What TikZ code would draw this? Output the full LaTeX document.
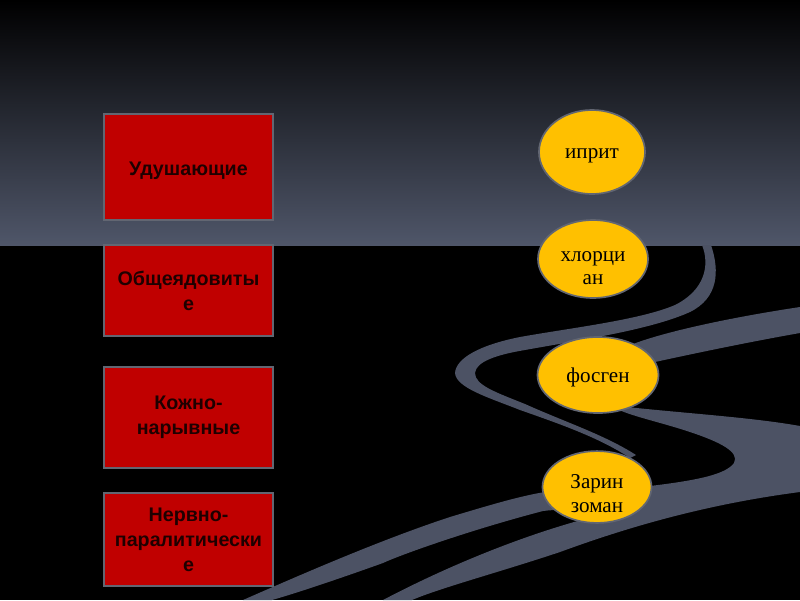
\documentclass[tikz,border=0pt]{standalone}
\usepackage{fontspec}
\setmainfont{Liberation Serif}
\newfontfamily\boxfont{Liberation Sans}
\usetikzlibrary{shapes.geometric}
\definecolor{slate}{RGB}{79,86,105}
\definecolor{ribbongray}{RGB}{76,82,100}
\definecolor{boxred}{RGB}{192,0,0}
\definecolor{amber}{RGB}{255,192,0}
\definecolor{rim}{RGB}{98,102,114}
\newcommand\lift[1]{\rule{0pt}{#1}}
\begin{document}
\begin{tikzpicture}[x=0.025cm, y=-0.025cm,
  grp/.style={draw=rim, line width=1.4pt, fill=boxred, minimum width=4.2cm, inner sep=0pt,
    align=center, text={rgb,255:red,30;green,0;blue,0}, font=\boxfont\bfseries\fontsize{14}{17.8}\selectfont},
  agent/.style={ellipse, draw=rim, line width=1.2pt, fill=amber, inner sep=0pt, align=center,
    font=\fontsize{15}{17}\selectfont},
  ribbon/.style={fill=ribbongray}]
  \useasboundingbox (0,0) rectangle (800,600);
  \fill[black] (0,0) rectangle (800,600);
  \shade[top color=black, bottom color=slate] (0,0) rectangle (800,245);
  % thin S ribbon under the top band
  \fill[ribbon] (702,245) .. controls (710,265) and (705,290) .. (675,305)
    .. controls (640,320) and (570,328) .. (520,337) .. controls (480,345) and (456,358) .. (455,373)
    .. controls (456,388) and (490,398) .. (520,410) .. controls (560,424) and (600,438) .. (630,458)
    -- (636,455) .. controls (605,435) and (565,422) .. (525,404) .. controls (495,392) and (475,385) .. (475,373)
    .. controls (476,362) and (495,355) .. (525,350) .. controls (580,340) and (650,330) .. (690,312)
    .. controls (718,298) and (720,272) .. (711,245) -- cycle;
  % wide ribbon from the right edge, behind fosgen and zarin, to the lower left
  \fill[ribbon] (800,307) .. controls (740,316) and (670,330) .. (633,344)
    .. controls (600,356) and (595,398) .. (618,406) .. controls (680,413) and (750,417) .. (800,426)
    -- (800,487) .. controls (740,492) and (690,500) .. (650,506) .. controls (600,512) and (565,508) .. (543,511)
    .. controls (470,530) and (400,555) .. (383,563) .. controls (330,582) and (290,595) .. (272,600)
    -- (243,600) .. controls (300,575) and (380,540) .. (450,517) .. controls (490,505) and (520,496) .. (545,492)
    .. controls (580,488) and (620,488) .. (650,486) .. controls (700,480) and (726,474) .. (734,463)
    .. controls (740,452) and (720,442) .. (690,432) .. controls (660,422) and (630,416) .. (615,408)
    .. controls (600,395) and (620,368) .. (655,362) .. controls (710,350) and (760,340) .. (800,333) -- cycle;
  % lower ribbon
  \fill[ribbon] (383,600) .. controls (440,570) and (520,535) .. (600,515)
    .. controls (680,498) and (740,488) .. (800,478) -- (800,492)
    .. controls (700,505) and (620,530) .. (560,552) .. controls (500,572) and (440,588) .. (412,600) -- cycle;

  \node[grp, minimum height=2.65cm] (udush) at (188.5,167) {\lift{15pt}Удушающие};
  \node[grp, minimum height=2.275cm] (obshch) at (188.5,290.5) {Общеядовиты\\е};
  \node[grp, minimum height=2.525cm] (kozh) at (188.5,417.5) {Кожно-\\нарывные};
  \node[grp, minimum height=2.325cm] (nerv) at (188.5,539.5) {Нервно-\\паралитически\\е};

  \node[agent, minimum width=2.65cm, minimum height=2.1cm] (iprit) at (592,152) {\lift{12.5pt}иприт};
  \node[agent, minimum width=2.75cm, minimum height=1.95cm] (hlorcian) at (593,259) {\lift{20pt}хлорци\\ан};
  \node[agent, minimum width=3.025cm, minimum height=1.9cm] (fosgen) at (598,375) {\lift{14pt}фосген};
  \node[agent, minimum width=2.725cm, minimum height=1.75cm] (zarin) at (597,487) {\lift{19pt}Зарин\\зоман};
\end{tikzpicture}
\end{document}
